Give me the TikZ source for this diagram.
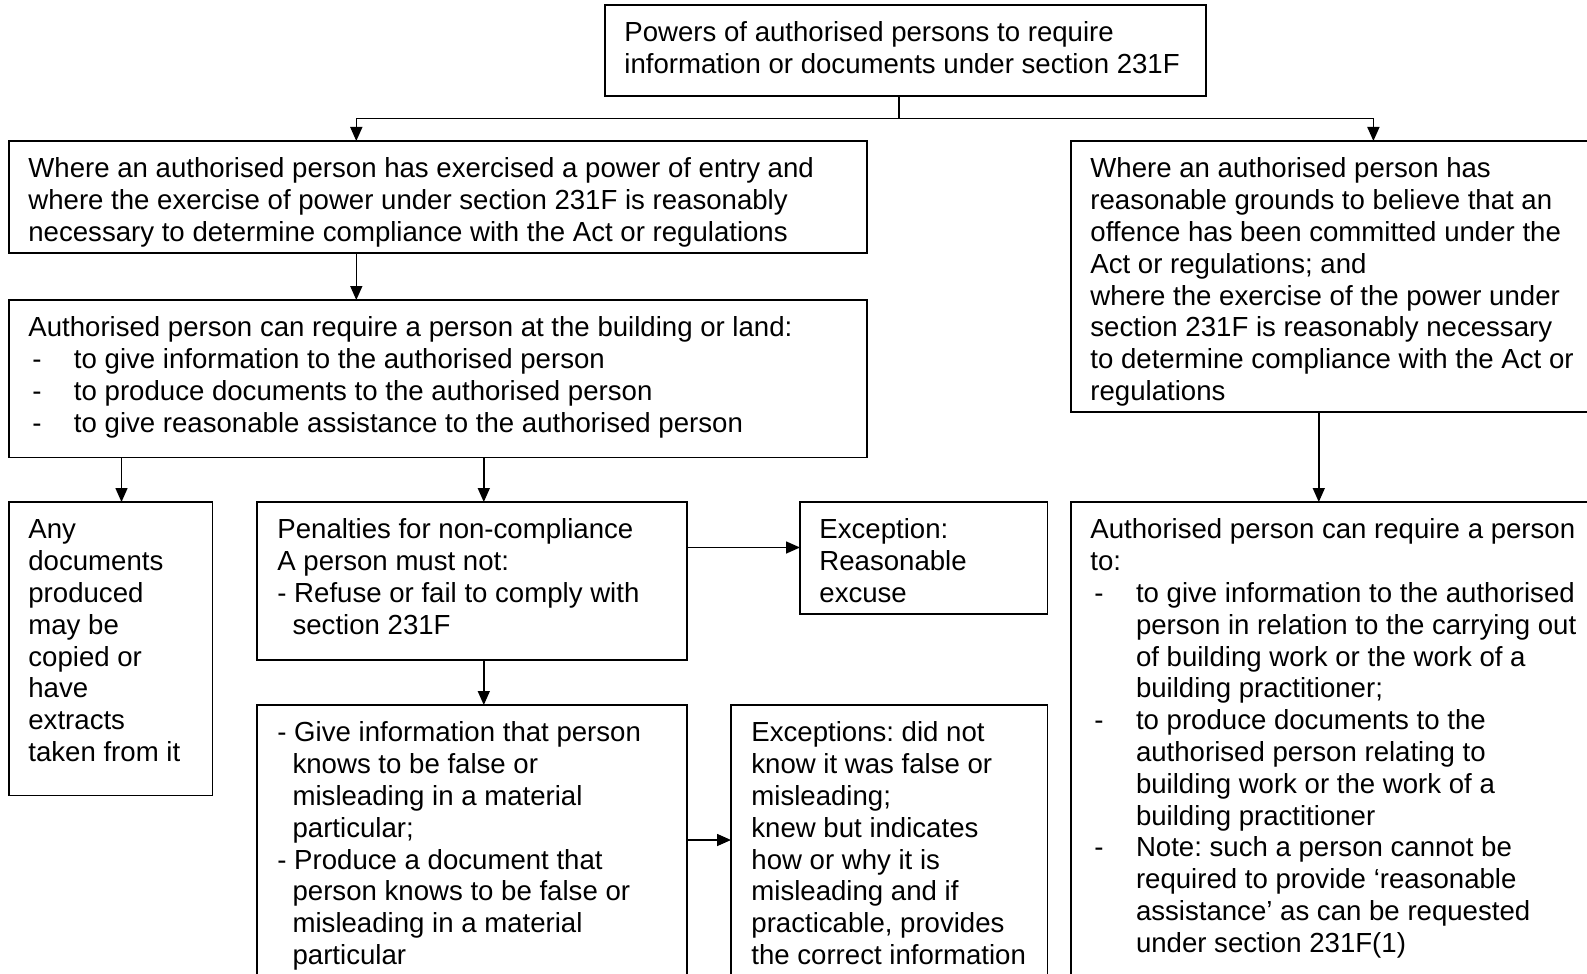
\documentclass[tikz,border=0pt]{standalone}
\usepackage{fontspec}
\setmainfont{Liberation Sans}
\usetikzlibrary{arrows.meta,calc}
\frenchspacing
\newcommand\fl{\rule{0pt}{10pt}}
\newcommand\dsh{\makebox[22.8pt][l]{\hspace{2pt}-}}
\newcommand\ind{\hspace*{22.8pt}}
\newcommand\hng{\hspace*{7.6pt}}
\begin{document}
\begin{tikzpicture}[x=0.5pt,y=-0.5pt,
  box/.style={draw, line width=0.8pt, anchor=north west, inner sep=0pt, outer sep=0pt},
  txt/.style={anchor=north west, inner sep=0pt, align=left, font=\fontsize{13.8pt}{15.9pt}\selectfont\frenchspacing},
  arr/.style={line width=0.8pt, -{Triangle[length=7pt,width=6pt]}},
  ln/.style={line width=0.8pt}]
\useasboundingbox (0,0) rectangle (1587,974);
\clip (0,0) rectangle (1587,974);
\fill[white] (0,0) rectangle (1587,974);
% boxes
\node[box, minimum width=300.5pt, minimum height=45.5pt] (T) at (605,5) {};
\node[box, minimum width=429pt, minimum height=56pt] (A) at (9,141) {};
\node[box, minimum width=264.5pt, minimum height=135.5pt] (R1) at (1071,141) {};
\node[box, minimum width=429pt, minimum height=78.75pt] (B) at (9,300) {};
\node[box, minimum width=101.75pt, minimum height=146.75pt] (C) at (9,502) {};
\node[box, minimum width=215pt, minimum height=79pt] (D) at (257,502) {};
\node[box, minimum width=123.75pt, minimum height=56pt] (E) at (800,502) {};
\node[box, minimum width=215pt, minimum height=147.5pt] (F) at (257,705) {};
\node[box, minimum width=158.25pt, minimum height=147.5pt] (G) at (731,705) {};
\node[box, minimum width=264.5pt, minimum height=249pt] (R2) at (1071,502) {};
% texts
\node[txt] (tT) at ($(T.north west)+(19,16.5)$) {\fl Powers of authorised persons to require\\information or documents under section 231F};
\node[txt] (tA) at ($(A.north west)+(19,16.5)$) {\fl Where an authorised person has exercised a power of entry and\\where the exercise of power under section 231F is reasonably\\necessary to determine compliance with the Act or regulations};
\node[txt] (tR1) at ($(R1.north west)+(19,16.5)$) {\fl Where an authorised person has\\reasonable grounds to believe that an\\offence has been committed under the\\Act or regulations; and\\where the exercise of the power under\\section 231F is reasonably necessary\\to determine compliance with the Act or\\regulations};
\node[txt] (tB) at ($(B.north west)+(19,16.5)$) {\fl Authorised person can require a person at the building or land:\\\dsh to give information to the authorised person\\\dsh to produce documents to the authorised person\\\dsh to give reasonable assistance to the authorised person};
\node[txt] (tC) at ($(C.north west)+(19,16.5)$) {\fl Any\\documents\\produced\\may be\\copied or\\have\\extracts\\taken from it};
\node[txt] (tD) at ($(D.north west)+(20,16.5)$) {\fl Penalties for non-compliance\\A person must not:\\- Refuse or fail to comply with\\\hng section 231F};
\node[txt] (tE) at ($(E.north west)+(19,16.5)$) {\fl Exception:\\Reasonable\\excuse};
\node[txt] (tF) at ($(F.north west)+(20,16.5)$) {\fl - Give information that person\\\hng knows to be false or\\\hng misleading in a material\\\hng particular;\\- Produce a document that\\\hng person knows to be false or\\\hng misleading in a material\\\hng particular};
\node[txt] (tG) at ($(G.north west)+(20,16.5)$) {\fl Exceptions: did not\\know it was false or\\misleading;\\knew but indicates\\how or why it is\\misleading and if\\practicable, provides\\the correct information};
\node[txt] (tR2) at ($(R2.north west)+(19,16.5)$) {\fl Authorised person can require a person\\to:\\\dsh to give information to the authorised\\\ind person in relation to the carrying out\\\ind of building work or the work of a\\\ind building practitioner;\\\dsh to produce documents to the\\\ind authorised person relating to\\\ind building work or the work of a\\\ind building practitioner\\\dsh Note: such a person cannot be\\\ind required to provide ‘reasonable\\\ind assistance’ as can be requested\\\ind under section 231F(1)};
% connector coordinates
\coordinate (j) at (898.7,118.4);
\coordinate (hl) at (356.3,118.4);
\coordinate (hr) at (1373.4,118.4);
\coordinate (xc) at (121.5,0);
\coordinate (xd) at (483.8,0);
\coordinate (xr) at (1318.8,0);
\coordinate (yde) at (0,547.5);
\coordinate (yfg) at (0,840);
% connectors
\draw[ln] (T.south -| j) -- (j);
\draw[arr] (j) -- (hl) -- (hl |- A.north);
\draw[arr] (j) -- (hr) -- (hr |- R1.north);
\draw[arr] (A.south -| hl) -- (B.north -| hl);
\draw[arr] (B.south -| xc) -- (C.north -| xc);
\draw[arr] (B.south -| xd) -- (D.north -| xd);
\draw[arr] (D.east |- yde) -- (E.west |- yde);
\draw[arr] (D.south -| xd) -- (F.north -| xd);
\draw[arr] (F.east |- yfg) -- (G.west |- yfg);
\draw[arr] (R1.south -| xr) -- (R2.north -| xr);
\end{tikzpicture}
\end{document}
